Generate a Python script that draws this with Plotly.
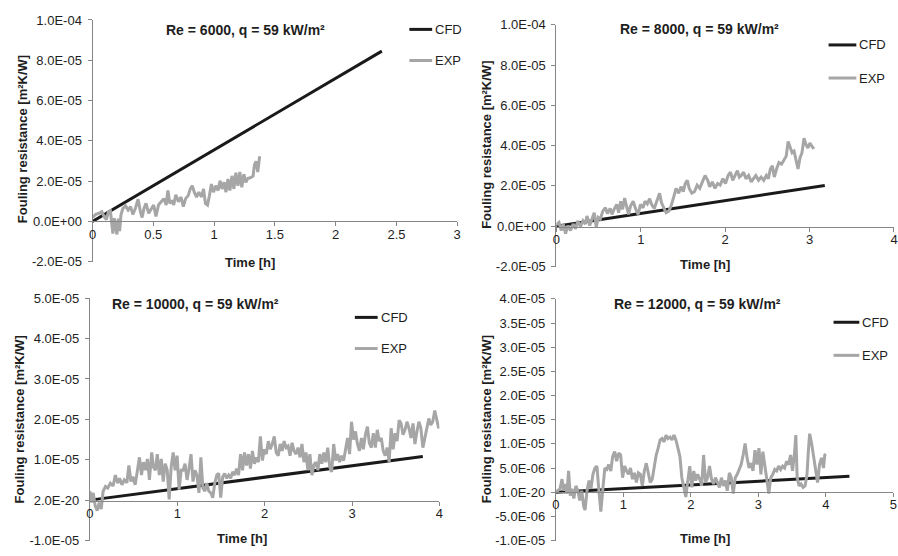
import plotly.graph_objects as go

# ---------------------------------------------------------------------------
# Data: fouling resistance vs. time, values in units of 1e-5 m2K/W
# ---------------------------------------------------------------------------
SCALE = 1e-5

cfd_6000 = [(0.0, 0.0), (2.38, 8.45)]
exp_6000 = [
    (0.000, 0.19), (0.027, 0.35), (0.054, 0.40), (0.076, 0.48), (0.095, 0.24),
    (0.114, 0.08), (0.130, 0.45), (0.147, 0.52), (0.158, -0.08), (0.168, -0.61),
    (0.179, 0.16), (0.190, -0.35), (0.201, -0.65), (0.212, 0.13), (0.223, -0.48),
    (0.234, 0.32), (0.250, 0.65), (0.272, 0.77), (0.293, 0.56), (0.313, 0.73),
    (0.332, 0.35), (0.353, 0.65), (0.375, 1.10), (0.394, 0.48), (0.408, 0.19),
    (0.424, 0.65), (0.440, 0.89), (0.462, 0.40), (0.484, 0.65), (0.503, 0.81),
    (0.522, 0.24), (0.543, 0.81), (0.565, 0.97), (0.587, 1.13), (0.606, 0.81),
    (0.620, 1.53), (0.636, 0.89), (0.652, 1.05), (0.668, 0.81), (0.685, 1.32),
    (0.707, 0.97), (0.728, 1.21), (0.747, 0.73), (0.766, 1.13), (0.788, 1.29),
    (0.804, 1.61), (0.821, 1.77), (0.837, 1.45), (0.856, 1.21), (0.875, 1.45),
    (0.897, 1.21), (0.913, 1.61), (0.929, 0.89), (0.946, 0.81), (0.962, 1.29),
    (0.978, 1.85), (0.995, 1.45), (1.014, 1.77), (1.033, 1.53), (1.049, 2.02),
    (1.065, 1.61), (1.082, 1.94), (1.098, 1.45), (1.114, 2.10), (1.130, 1.53),
    (1.147, 2.26), (1.163, 1.61), (1.179, 2.42), (1.196, 1.77), (1.212, 2.45),
    (1.228, 1.69), (1.245, 2.34), (1.261, 1.94), (1.277, 2.13), (1.304, 2.18),
    (1.321, 2.26), (1.332, 2.82), (1.345, 2.98), (1.359, 2.45), (1.370, 3.15),
    (1.375, 3.23),
]

cfd_8000 = [(0.0, 0.0), (3.18, 2.02)]
exp_8000 = [
    (0.000, 0.08), (0.031, 0.19), (0.059, -0.21), (0.082, 0.11), (0.109, -0.37),
    (0.137, 0.03), (0.168, -0.21), (0.199, 0.11), (0.227, -0.13), (0.254, 0.27),
    (0.285, -0.02), (0.316, 0.27), (0.344, 0.11), (0.363, 0.51), (0.395, 0.03),
    (0.422, 0.35), (0.449, 0.67), (0.473, -0.05), (0.496, 0.43), (0.520, 0.35),
    (0.551, 0.75), (0.582, 0.92), (0.605, 0.63), (0.637, 0.88), (0.660, 0.59),
    (0.684, 0.84), (0.715, 1.08), (0.738, 0.67), (0.762, 1.24), (0.785, 0.84),
    (0.809, 1.40), (0.832, 1.00), (0.855, 0.59), (0.879, 1.00), (0.910, 1.24),
    (0.941, 0.84), (0.969, 0.59), (0.996, 1.08), (1.027, 0.92), (1.051, 1.24),
    (1.078, 1.11), (1.105, 1.37), (1.129, 1.08), (1.160, 0.88), (1.191, 1.24),
    (1.223, 1.64), (1.246, 1.16), (1.277, 0.88), (1.300, 0.67), (1.332, 0.75),
    (1.359, 1.00), (1.387, 1.40), (1.418, 1.88), (1.449, 1.64), (1.477, 1.96),
    (1.504, 1.72), (1.527, 2.12), (1.551, 2.28), (1.574, 1.88), (1.605, 1.64),
    (1.637, 1.72), (1.668, 2.04), (1.699, 1.88), (1.730, 2.20), (1.762, 2.52),
    (1.793, 2.28), (1.816, 1.96), (1.848, 2.20), (1.879, 1.88), (1.910, 2.12),
    (1.941, 2.04), (1.973, 2.36), (2.004, 2.12), (2.035, 2.52), (2.063, 2.68),
    (2.090, 2.28), (2.121, 2.52), (2.145, 2.76), (2.168, 2.44), (2.191, 2.52),
    (2.219, 2.68), (2.246, 2.36), (2.277, 2.52), (2.309, 2.20), (2.336, 2.36),
    (2.363, 2.52), (2.395, 2.28), (2.426, 2.44), (2.457, 2.28), (2.488, 2.52),
    (2.512, 2.36), (2.535, 2.84), (2.559, 3.00), (2.582, 2.44), (2.609, 2.84),
    (2.637, 3.16), (2.668, 3.08), (2.699, 3.32), (2.723, 3.48), (2.746, 4.21),
    (2.770, 3.89), (2.793, 3.65), (2.816, 3.73), (2.840, 3.32), (2.863, 2.84),
    (2.887, 3.40), (2.910, 3.65), (2.934, 4.37), (2.957, 4.05), (2.980, 3.89),
    (3.004, 4.13), (3.027, 3.97), (3.051, 3.84),
]

cfd_10000 = [(0.0, 0.0), (3.81, 1.08)]
exp_10000 = [
    (0.000, 0.22), (0.019, -0.06), (0.038, 0.18), (0.060, -0.14), (0.083, -0.26),
    (0.106, -0.06), (0.129, -0.22), (0.151, 0.22), (0.178, 0.34), (0.204, 0.30),
    (0.234, 0.42), (0.265, 0.35), (0.291, 0.62), (0.318, 0.42), (0.340, 0.54),
    (0.367, 0.38), (0.393, 0.50), (0.423, 0.43), (0.446, 0.86), (0.469, 0.46),
    (0.491, 0.58), (0.518, 0.38), (0.544, 0.74), (0.567, 1.06), (0.590, 0.62),
    (0.612, 0.94), (0.635, 0.74), (0.658, 1.02), (0.681, 0.50), (0.707, 1.18),
    (0.726, 0.82), (0.749, 0.74), (0.771, 1.14), (0.794, 0.62), (0.817, 1.02),
    (0.839, 0.46), (0.862, 0.90), (0.885, 0.74), (0.907, 0.02), (0.930, 0.82),
    (0.953, 1.18), (0.975, 0.74), (0.998, 1.10), (1.021, 0.26), (1.044, 0.74),
    (1.066, 0.74), (1.089, 0.90), (1.112, 0.50), (1.134, 0.78), (1.157, 1.14),
    (1.180, 0.46), (1.202, 0.74), (1.225, 0.62), (1.248, 0.18), (1.270, 1.06),
    (1.293, 0.30), (1.316, 0.22), (1.338, 0.42), (1.361, 0.22), (1.384, 0.18),
    (1.406, 0.06), (1.429, 0.42), (1.452, 0.62), (1.474, 0.66), (1.497, 0.06),
    (1.520, 0.58), (1.543, 0.66), (1.565, 0.54), (1.588, 0.62), (1.611, 0.54),
    (1.633, 0.70), (1.656, 0.62), (1.679, 0.78), (1.701, 0.62), (1.724, 1.14),
    (1.747, 0.74), (1.769, 1.18), (1.792, 0.86), (1.815, 1.14), (1.837, 0.78),
    (1.860, 1.22), (1.883, 0.90), (1.905, 1.06), (1.928, 0.94), (1.951, 1.58),
    (1.974, 0.98), (1.996, 1.26), (2.019, 1.14), (2.042, 1.46), (2.064, 1.26),
    (2.087, 1.39), (2.110, 1.58), (2.132, 1.18), (2.155, 1.10), (2.178, 1.39),
    (2.200, 1.22), (2.223, 1.46), (2.246, 1.30), (2.268, 1.34), (2.291, 1.10),
    (2.314, 1.42), (2.336, 1.22), (2.359, 1.14), (2.382, 1.30), (2.405, 1.06),
    (2.427, 1.39), (2.450, 0.94), (2.473, 1.18), (2.495, 0.74), (2.518, 1.14),
    (2.541, 0.62), (2.563, 0.86), (2.586, 0.94), (2.609, 0.74), (2.631, 1.14),
    (2.654, 0.90), (2.677, 1.18), (2.699, 0.94), (2.722, 1.30), (2.745, 0.82),
    (2.767, 0.70), (2.790, 1.39), (2.813, 0.98), (2.836, 1.14), (2.858, 0.94),
    (2.881, 1.10), (2.904, 0.98), (2.926, 1.22), (2.949, 1.54), (2.972, 1.14),
    (2.994, 1.94), (3.017, 1.50), (3.040, 1.70), (3.062, 1.39), (3.085, 1.22),
    (3.108, 1.54), (3.130, 1.26), (3.153, 1.62), (3.176, 1.82), (3.198, 1.42),
    (3.221, 1.30), (3.244, 1.66), (3.267, 1.30), (3.289, 1.74), (3.312, 1.46),
    (3.335, 1.54), (3.357, 1.22), (3.380, 1.10), (3.403, 1.30), (3.425, 0.94),
    (3.448, 1.78), (3.471, 1.26), (3.493, 1.66), (3.516, 1.46), (3.539, 1.98),
    (3.561, 1.90), (3.584, 1.62), (3.607, 1.74), (3.629, 1.94), (3.652, 1.78),
    (3.675, 1.54), (3.698, 1.90), (3.720, 1.39), (3.743, 1.70), (3.766, 1.94),
    (3.788, 1.78), (3.811, 1.30), (3.834, 1.54), (3.856, 1.74), (3.879, 2.02),
    (3.902, 1.86), (3.924, 1.94), (3.947, 2.22), (3.970, 1.98), (3.992, 1.78),
    (4.000, 1.82),
]

cfd_12000 = [(0.0, 0.0), (4.35, 0.33)]
exp_12000 = [
    (0.000, 0.00), (0.034, 0.03), (0.063, 0.07), (0.093, 0.27), (0.117, 0.03),
    (0.141, 0.17), (0.166, -0.03), (0.190, 0.44), (0.215, -0.07), (0.239, 0.07),
    (0.268, -0.13), (0.298, 0.13), (0.327, 0.03), (0.356, -0.17), (0.385, 0.03),
    (0.415, -0.30), (0.434, -0.37), (0.463, 0.03), (0.493, 0.24), (0.522, 0.07),
    (0.551, 0.37), (0.580, 0.50), (0.610, 0.54), (0.639, 0.03), (0.668, -0.40),
    (0.698, 0.07), (0.727, 0.50), (0.756, 0.47), (0.785, 0.57), (0.815, 0.44),
    (0.844, 0.74), (0.873, 0.84), (0.902, 0.64), (0.932, 0.81), (0.961, 0.77),
    (0.990, 0.30), (1.020, 0.54), (1.049, 0.44), (1.078, 0.37), (1.107, 0.50),
    (1.137, 0.27), (1.166, 0.40), (1.195, 0.20), (1.224, 0.40), (1.254, 0.37),
    (1.283, 0.13), (1.312, 0.44), (1.341, 0.60), (1.371, 0.37), (1.400, 0.20),
    (1.429, 0.27), (1.459, 0.57), (1.488, 0.77), (1.517, 0.91), (1.546, 1.08),
    (1.576, 1.11), (1.605, 1.04), (1.634, 1.18), (1.663, 1.11), (1.693, 1.14),
    (1.722, 1.08), (1.751, 1.18), (1.780, 1.08), (1.810, 0.91), (1.839, 0.74),
    (1.868, 0.30), (1.898, 0.10), (1.927, -0.10), (1.956, 0.24), (1.985, 0.54),
    (2.015, 0.10), (2.044, 0.44), (2.073, 0.24), (2.102, 0.37), (2.132, 0.27),
    (2.161, 0.13), (2.190, 0.77), (2.220, 0.20), (2.249, 0.30), (2.278, 0.54),
    (2.307, 0.27), (2.337, 0.17), (2.366, 0.30), (2.395, 0.20), (2.424, 0.10),
    (2.454, 0.30), (2.483, 0.13), (2.512, 0.24), (2.541, 0.03), (2.571, 0.40),
    (2.600, 0.30), (2.629, -0.03), (2.659, 0.30), (2.688, 0.37), (2.717, 0.47),
    (2.746, 0.57), (2.776, 0.77), (2.805, 1.01), (2.834, 0.71), (2.863, 0.50),
    (2.893, 0.60), (2.922, 0.44), (2.951, 0.87), (2.980, 0.57), (3.010, 0.91),
    (3.039, 0.37), (3.068, 0.84), (3.098, 0.50), (3.127, 0.20), (3.156, -0.03),
    (3.185, 0.30), (3.215, 0.37), (3.244, 0.47), (3.273, 0.44), (3.302, 0.54),
    (3.332, 0.47), (3.361, 0.54), (3.390, 0.50), (3.420, 0.64), (3.449, 0.57),
    (3.478, 0.77), (3.507, 0.44), (3.537, 0.81), (3.556, 1.18), (3.576, 0.30),
    (3.605, 0.13), (3.634, 0.17), (3.663, 0.10), (3.693, 0.13), (3.722, 0.37),
    (3.741, 0.84), (3.761, 1.21), (3.790, 1.01), (3.820, 0.71), (3.849, 0.47),
    (3.878, 0.20), (3.907, 0.57), (3.937, 0.71), (3.966, 0.50), (3.985, 0.77),
    (4.000, 0.79),
]

titles = [
    "Re = 6000, q = 59 kW/m²",
    "Re = 8000, q = 59 kW/m²",
    "Re = 10000, q = 59 kW/m²",
    "Re = 12000, q = 59 kW/m²",
]

# y tick labels as printed by the spreadsheet that produced the curves
yticks_top = [-2.0, 0.0, 2.0, 4.0, 6.0, 8.0, 10.0]
yticktext_top = ["-2.0E-05", "0.0E+00", "2.0E-05", "4.0E-05", "6.0E-05",
                 "8.0E-05", "1.0E-04"]
yticks_10000 = [-1.0, 0.0, 1.0, 2.0, 3.0, 4.0, 5.0]
yticktext_10000 = ["-1.0E-05", "2.0E-20", "1.0E-05", "2.0E-05", "3.0E-05",
                   "4.0E-05", "5.0E-05"]
yticks_12000 = [-1.0, -0.5, 0.0, 0.5, 1.0, 1.5, 2.0, 2.5, 3.0, 3.5, 4.0]
yticktext_12000 = ["-1.0E-05", "-5.0E-06", "1.0E-20", "5.0E-06", "1.0E-05",
                   "1.5E-05", "2.0E-05", "2.5E-05", "3.0E-05", "3.5E-05",
                   "4.0E-05"]
xticks_6000 = [0, 0.5, 1, 1.5, 2, 2.5, 3]
xticktext_6000 = ["0", "0.5", "1", "1.5", "2", "2.5", "3"]
xticks_4h = [0, 1, 2, 3, 4]
xticks_5h = [0, 1, 2, 3, 4, 5]

# ---------------------------------------------------------------------------
# Page geometry (pixels of a 898 x 556 canvas)
# ---------------------------------------------------------------------------
W, H = 898, 556


def fx(p):
    return p / W


def fy(p):
    return 1 - p / H


FONT = "Arial, 'Liberation Sans', Helvetica, sans-serif"
TXT = "#1e1e1e"
AXIS = "#868686"
CFD_COLOR = "#1a1a1a"
EXP_COLOR = "#a6a6a6"
TICK_SIZE = 13

panels = [
    dict(cfd=cfd_6000, exp=exp_6000, title=titles[0],
         xpx=(89.3, 457.3), xr=(0, 3), xt=xticks_6000, xtt=xticktext_6000,
         ypx=(13.3, 261.7), yr=(-2.0, 10.0), yt=yticks_top, ytt=yticktext_top,
         zero=220.0, title_xy=(244, 24), xtitle_xy=(248, 263), ytitle_xy=(18, 136),
         leg=(409, 432, 23, 55)),
    dict(cfd=cfd_8000, exp=exp_8000, title=titles[1],
         xpx=(557.3, 898.0), xr=(0, 4), xt=xticks_4h, xtt=[str(v) for v in xticks_4h],
         ypx=(18.3, 266.7), yr=(-2.0, 10.0), yt=yticks_top, ytt=yticktext_top,
         zero=225.7, title_xy=(702, 23), xtitle_xy=(707, 265), ytitle_xy=(487, 142),
         leg=(832, 860, 39, 73)),
    dict(cfd=cfd_10000, exp=exp_10000, title=titles[2],
         xpx=(86.7, 439.3), xr=(0, 4), xt=xticks_4h, xtt=[str(v) for v in xticks_4h],
         ypx=(299.3, 548.3), yr=(-1.0, 5.0), yt=yticks_10000, ytt=yticktext_10000,
         zero=507.3, title_xy=(193, 305), xtitle_xy=(240, 546), ytitle_xy=(16, 424),
         leg=(354, 377, 319, 351)),
    dict(cfd=cfd_12000, exp=exp_12000, title=titles[3],
         xpx=(556.7, 897.3), xr=(0, 5), xt=xticks_5h, xtt=[str(v) for v in xticks_5h],
         ypx=(300.0, 548.3), yr=(-1.0, 4.0), yt=yticks_12000, ytt=yticktext_12000,
         zero=498.3, title_xy=(700, 305), xtitle_xy=(707, 546), ytitle_xy=(487, 424),
         leg=(837, 863, 324, 358)),
]

fig = go.Figure()
shapes, annotations = [], []

for i, p in enumerate(panels, start=1):
    xa = "x" if i == 1 else f"x{i}"
    ya = "y" if i == 1 else f"y{i}"
    for series, color in ((p["cfd"], CFD_COLOR), (p["exp"], EXP_COLOR)):
        fig.add_trace(go.Scatter(
            x=[t for t, _ in series],
            y=[v * SCALE for _, v in series],
            mode="lines", line=dict(color=color, width=3),
            xaxis=xa, yaxis=ya, showlegend=False, hoverinfo="skip",
        ))

    xkey = "xaxis" if i == 1 else f"xaxis{i}"
    ykey = "yaxis" if i == 1 else f"yaxis{i}"
    fig.update_layout(**{
        xkey: dict(
            domain=[fx(p["xpx"][0]), fx(p["xpx"][1])],
            range=list(p["xr"]), anchor="free", position=fy(p["zero"]),
            tickmode="array", tickvals=p["xt"], ticktext=p["xtt"],
            showline=True, linecolor=AXIS, linewidth=1,
            ticks="outside", ticklen=4, tickcolor=AXIS, tickwidth=1,
            showgrid=False, zeroline=False, ticklabeloverflow="allow",
            ticklabelstandoff=-3,
            tickfont=dict(family=FONT, size=TICK_SIZE, color=TXT),
        ),
        ykey: dict(
            domain=[fy(p["ypx"][1]), fy(p["ypx"][0])],
            range=[p["yr"][0] * SCALE, p["yr"][1] * SCALE], anchor=xa,
            tickmode="array", tickvals=[v * SCALE for v in p["yt"]], ticktext=p["ytt"],
            showline=True, linecolor=AXIS, linewidth=1,
            ticks="outside", ticklen=4, tickcolor=AXIS, tickwidth=1,
            showgrid=False, zeroline=False, ticklabelstandoff=3,
            tickfont=dict(family=FONT, size=TICK_SIZE, color=TXT),
        ),
    })

    # panel title and axis titles
    tx, ty = p["title_xy"]
    annotations.append(dict(text=f"<b>{p['title']}</b>", x=fx(tx), y=fy(ty),
                            xref="paper", yref="paper", showarrow=False,
                            xanchor="center", yanchor="middle",
                            font=dict(family=FONT, size=14, color=TXT)))
    tx, ty = p["xtitle_xy"]
    annotations.append(dict(text="<b>Time [h]</b>", x=fx(tx), y=fy(ty),
                            xref="paper", yref="paper", showarrow=False,
                            xanchor="center", yanchor="middle",
                            font=dict(family=FONT, size=13, color=TXT)))
    tx, ty = p["ytitle_xy"]
    annotations.append(dict(text="<b>Fouling resistance [m²K/W]</b>", x=fx(tx), y=fy(ty),
                            xref="paper", yref="paper", showarrow=False, textangle=-90,
                            xanchor="center", yanchor="middle",
                            font=dict(family=FONT, size=13, color=TXT)))

    # legend: line swatch followed by the series name
    lx0, lx1, ly_cfd, ly_exp = p["leg"]
    for name, color, ly in (("CFD", CFD_COLOR, ly_cfd), ("EXP", EXP_COLOR, ly_exp)):
        shapes.append(dict(type="line", xref="paper", yref="paper",
                           x0=fx(lx0), x1=fx(lx1), y0=fy(ly), y1=fy(ly),
                           line=dict(color=color, width=3)))
        annotations.append(dict(text=name, x=fx(lx1 + 1), y=fy(ly),
                                xref="paper", yref="paper", showarrow=False,
                                xanchor="left", yanchor="middle",
                                font=dict(family=FONT, size=13, color=TXT)))

fig.update_layout(
    width=W, height=H,
    margin=dict(l=0, r=0, t=0, b=0),
    paper_bgcolor="white", plot_bgcolor="white",
    shapes=shapes, annotations=annotations,
    showlegend=False,
)

fig.write_html("out.html", config={"displayModeBar": False})
